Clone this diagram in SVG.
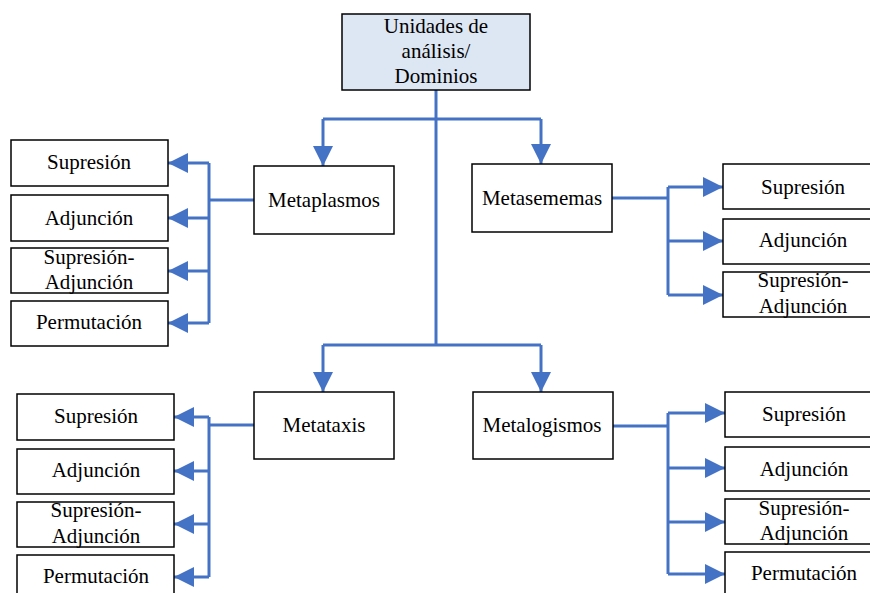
<svg xmlns="http://www.w3.org/2000/svg" width="870" height="593" viewBox="0 0 870 593">
  <style>
    .box { fill: #ffffff; stroke: #000000; stroke-width: 1.5; }
    .root { fill: #dde7f3; stroke: #000000; stroke-width: 1.5; }
    .lbl { font-family: 'Liberation Serif', 'Times New Roman', serif; font-size: 21px; fill: #000000; text-anchor: middle; }
    .wire { fill: none; stroke: #4472c4; stroke-width: 3; }
    .arr { fill: none; stroke: #4472c4; stroke-width: 3; marker-end: url(#head); }
  </style>
  <defs>
    <marker id="head" markerUnits="userSpaceOnUse" markerWidth="20" markerHeight="20" refX="20" refY="10" orient="auto">
      <path d="M0,0 L20,10 L0,20 Z" fill="#4472c4"/>
    </marker>
  </defs>
  <rect width="870" height="593" fill="#ffffff"/>

  <g id="connectors">
    <!-- trunk -->
    <path class="wire" d="M436,90 V345"/>
    <path class="wire" d="M323,119 H541"/>
    <path class="wire" d="M323,345 H541"/>
    <path class="arr" d="M323,119 V166"/>
    <path class="arr" d="M541,119 V164"/>
    <path class="arr" d="M323,345 V392"/>
    <path class="arr" d="M541,345 V392"/>
    <!-- Metaplasmos branches -->
    <path class="wire" d="M254,200 H209"/>
    <path class="wire" d="M209,163 V323"/>
    <path class="arr" d="M209,163 H168"/>
    <path class="arr" d="M209,218 H168"/>
    <path class="arr" d="M209,271 H168"/>
    <path class="arr" d="M209,323 H168"/>
    <!-- Metasememas branches -->
    <path class="wire" d="M612,198 H668"/>
    <path class="wire" d="M668,187 V295"/>
    <path class="arr" d="M668,187 H723"/>
    <path class="arr" d="M668,241 H723"/>
    <path class="arr" d="M668,295 H723"/>
    <!-- Metataxis branches -->
    <path class="wire" d="M254,425 H209"/>
    <path class="wire" d="M209,417 V577"/>
    <path class="arr" d="M209,417 H174"/>
    <path class="arr" d="M209,471 H174"/>
    <path class="arr" d="M209,524 H174"/>
    <path class="arr" d="M209,577 H174"/>
    <!-- Metalogismos branches -->
    <path class="wire" d="M613,426 H668"/>
    <path class="wire" d="M668,413 V574"/>
    <path class="arr" d="M668,413 H725"/>
    <path class="arr" d="M668,468 H725"/>
    <path class="arr" d="M668,522 H725"/>
    <path class="arr" d="M668,574 H725"/>
  </g>

  <g id="root">
    <rect class="root" x="342" y="14" width="188" height="76"/>
    <text class="lbl" x="436" y="33">Unidades de</text>
    <text class="lbl" x="436" y="58">análisis/</text>
    <text class="lbl" x="436" y="83">Dominios</text>
  </g>

  <g id="metaplasmos">
    <rect class="box" x="254" y="166" width="140" height="68"/>
    <text class="lbl" x="324" y="207">Metaplasmos</text>
  </g>
  <g id="metasememas">
    <rect class="box" x="472" y="164" width="140" height="68"/>
    <text class="lbl" x="542" y="205">Metasememas</text>
  </g>
  <g id="metataxis">
    <rect class="box" x="254" y="392" width="140" height="67"/>
    <text class="lbl" x="324" y="432">Metataxis</text>
  </g>
  <g id="metalogismos">
    <rect class="box" x="473" y="392" width="140" height="67"/>
    <text class="lbl" x="542" y="432">Metalogismos</text>
  </g>

  <!-- Metaplasmos children -->
  <g id="mp-supresion">
    <rect class="box" x="11" y="140" width="157" height="46"/>
    <text class="lbl" x="89" y="169">Supresión</text>
  </g>
  <g id="mp-adjuncion">
    <rect class="box" x="11" y="195" width="157" height="46"/>
    <text class="lbl" x="89" y="225">Adjunción</text>
  </g>
  <g id="mp-supadj">
    <rect class="box" x="11" y="248" width="157" height="45"/>
    <text class="lbl" x="89" y="264">Supresión-</text>
    <text class="lbl" x="89" y="289">Adjunción</text>
  </g>
  <g id="mp-permutacion">
    <rect class="box" x="11" y="301" width="157" height="45"/>
    <text class="lbl" x="89" y="329">Permutación</text>
  </g>

  <!-- Metasememas children -->
  <g id="ms-supresion">
    <rect class="box" x="723" y="164" width="160" height="45"/>
    <text class="lbl" x="803" y="194">Supresión</text>
  </g>
  <g id="ms-adjuncion">
    <rect class="box" x="723" y="219" width="160" height="45"/>
    <text class="lbl" x="803" y="247">Adjunción</text>
  </g>
  <g id="ms-supadj">
    <rect class="box" x="723" y="272" width="160" height="45"/>
    <text class="lbl" x="803" y="287">Supresión-</text>
    <text class="lbl" x="803" y="313">Adjunción</text>
  </g>

  <!-- Metataxis children -->
  <g id="mt-supresion">
    <rect class="box" x="17" y="394" width="157" height="46"/>
    <text class="lbl" x="96" y="423">Supresión</text>
  </g>
  <g id="mt-adjuncion">
    <rect class="box" x="17" y="449" width="157" height="45"/>
    <text class="lbl" x="96" y="477">Adjunción</text>
  </g>
  <g id="mt-supadj">
    <rect class="box" x="17" y="502" width="157" height="45"/>
    <text class="lbl" x="96" y="517">Supresión-</text>
    <text class="lbl" x="96" y="543">Adjunción</text>
  </g>
  <g id="mt-permutacion">
    <rect class="box" x="17" y="555" width="157" height="45"/>
    <text class="lbl" x="96" y="583">Permutación</text>
  </g>

  <!-- Metalogismos children -->
  <g id="ml-supresion">
    <rect class="box" x="725" y="392" width="160" height="45"/>
    <text class="lbl" x="804" y="421">Supresión</text>
  </g>
  <g id="ml-adjuncion">
    <rect class="box" x="725" y="447" width="160" height="44"/>
    <text class="lbl" x="804" y="476">Adjunción</text>
  </g>
  <g id="ml-supadj">
    <rect class="box" x="725" y="499" width="160" height="45"/>
    <text class="lbl" x="804" y="515">Supresión-</text>
    <text class="lbl" x="804" y="540">Adjunción</text>
  </g>
  <g id="ml-permutacion">
    <rect class="box" x="725" y="552" width="160" height="45"/>
    <text class="lbl" x="804" y="580">Permutación</text>
  </g>
</svg>
